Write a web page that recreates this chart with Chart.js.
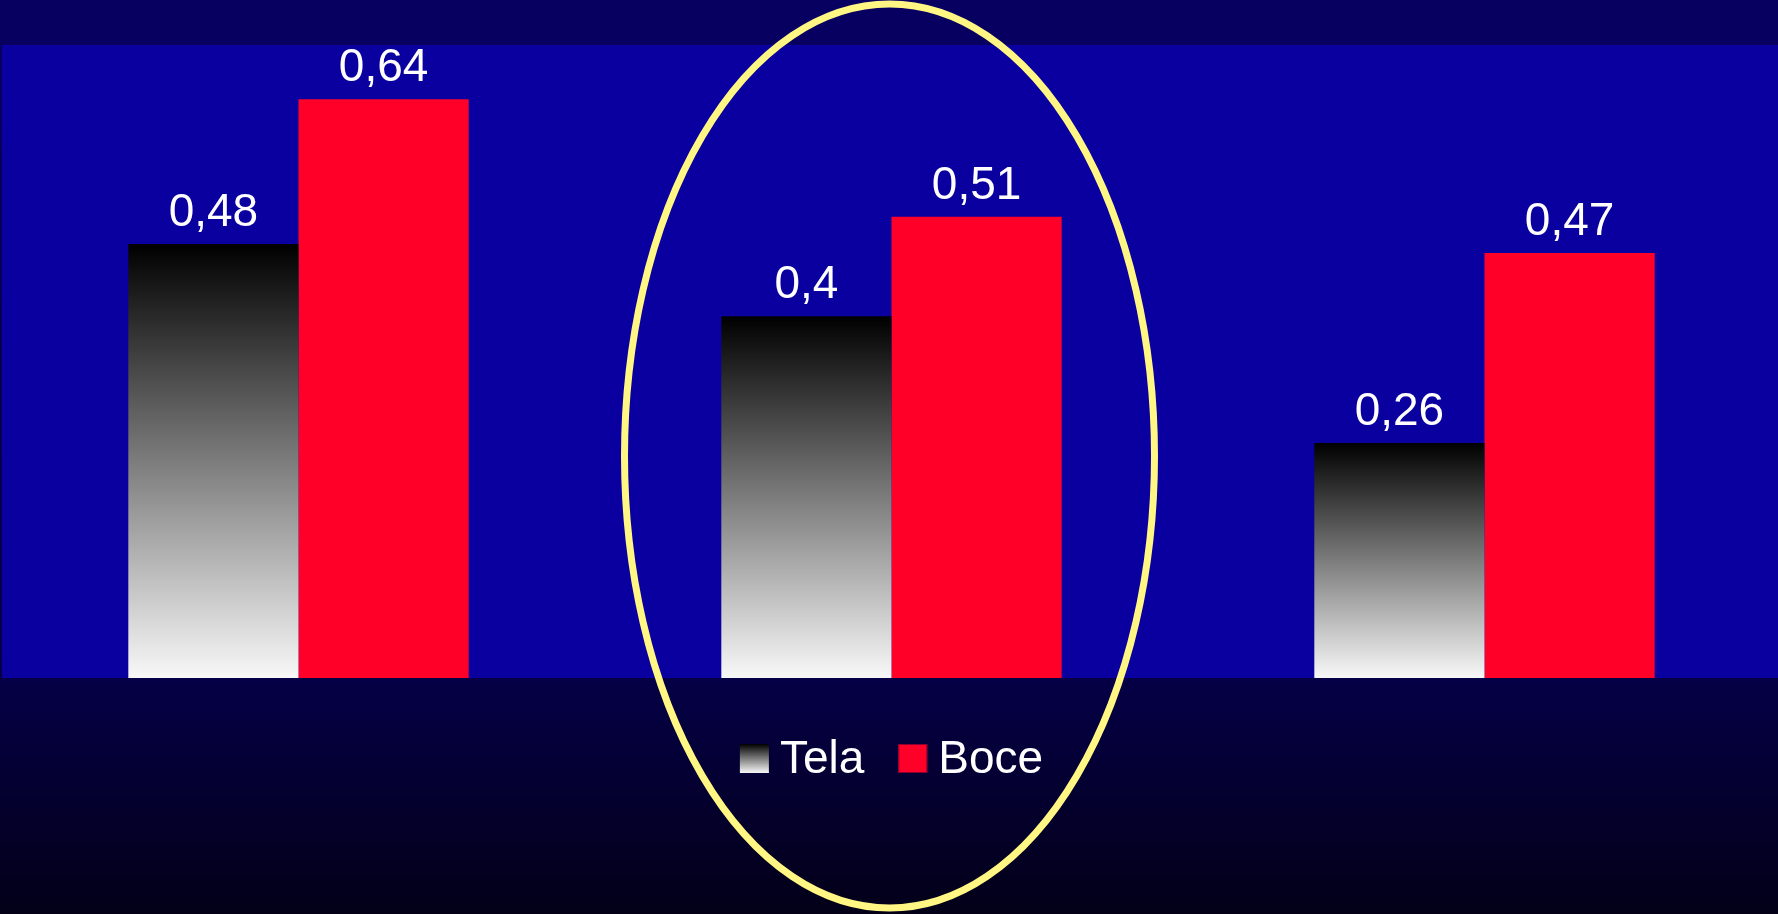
<!DOCTYPE html>
<html>
<head>
  <meta charset="UTF-8">
  <title>Tela / Boce</title>
  <script src="https://cdn.jsdelivr.net/npm/chart.js@4.4.1/dist/chart.umd.min.js"></script>
  <style>
    html, body { margin: 0; padding: 0; background: #03001a; overflow: hidden; }
    #wrap { width: 1778px; height: 914px; overflow: hidden; }
  </style>
</head>
<body>
<div id="wrap"><canvas id="canvas" width="1781" height="914"></canvas></div>
<script>
// valori
const categorie = ["A", "B", "C"];
const tela = [0.48, 0.4, 0.26];
const boce = [0.64, 0.51, 0.47];
const serie = ["Tela", "Boce"];

const ROSSO = "#ff0028";
const FONT = "46px 'Liberation Sans', Arial, sans-serif";

// gradiente nero -> bianco per ogni barra Tela
function gradTela(ctx) {
  const chart = ctx.chart;
  const y = chart.scales.y;
  if (!y || typeof ctx.raw !== "number") return "#808080";
  const top = y.getPixelForValue(ctx.raw);
  const bot = y.getPixelForValue(0);
  if (!Number.isFinite(top) || !Number.isFinite(bot)) return "#808080";
  const g = chart.ctx.createLinearGradient(0, top, 0, bot);
  g.addColorStop(0, "#000000");
  g.addColorStop(1, "#f8f8f8");
  return g;
}

// sfondo pagina + area blu
const sfondo = {
  id: "sfondo",
  beforeDraw(chart) {
    const c = chart.ctx, a = chart.chartArea;
    c.save();
    const g = c.createLinearGradient(0, 0, 0, chart.height);
    g.addColorStop(0, "#070060");
    g.addColorStop(0.05, "#070060");
    g.addColorStop(0.74, "#050046");
    g.addColorStop(1, "#030018");
    c.fillStyle = g;
    c.fillRect(0, 0, chart.width, chart.height);
    c.fillStyle = "#0a00a0";
    c.fillRect(a.left, a.top, chart.width - a.left, a.bottom - a.top);
    c.restore();
  }
};

// etichette valori sopra le barre
const etichette = {
  id: "etichette",
  afterDatasetsDraw(chart) {
    const c = chart.ctx;
    c.save();
    c.font = FONT;
    c.fillStyle = "#ffffff";
    c.textAlign = "center";
    c.textBaseline = "alphabetic";
    chart.data.datasets.forEach((ds, i) => {
      chart.getDatasetMeta(i).data.forEach((bar, j) => {
        const txt = String(ds.data[j]).replace(".", ",");
        c.fillText(txt, bar.x, bar.y - 18);
      });
    });
    c.restore();
  }
};

// legenda sotto il grafico
const legenda = {
  id: "legenda",
  afterDraw(chart) {
    const c = chart.ctx;
    const box = 29, gap = 11, sep = 34, base = 773;
    c.save();
    c.font = FONT;
    const items = chart.data.datasets.map(ds => ({ ds, w: c.measureText(ds.label).width }));
    const tot = items.reduce((s, it) => s + box + gap + it.w, 0) + sep * (items.length - 1);
    let x = chart.scales.x.getPixelForValue(1) - tot / 2;
    items.forEach((it, i) => {
      const y0 = base - box;
      if (i === 0) {
        const g = c.createLinearGradient(0, y0, 0, y0 + box);
        g.addColorStop(0, "#000000");
        g.addColorStop(1, "#f8f8f8");
        c.fillStyle = g;
        c.fillRect(x, y0, box, box);
      } else {
        c.fillStyle = it.ds.backgroundColor;
        c.fillRect(x, y0, box, box);
        c.strokeStyle = "#8a0030";
        c.lineWidth = 1;
        c.strokeRect(x + 0.5, y0 + 0.5, box - 1, box - 1);
      }
      c.fillStyle = "#ffffff";
      c.textBaseline = "alphabetic";
      c.fillText(it.ds.label, x + box + gap, base);
      x += box + gap + it.w + sep;
    });
    c.restore();
  }
};

// ellisse gialla intorno al gruppo centrale
const ellisse = {
  id: "ellisse",
  afterDraw(chart) {
    const c = chart.ctx;
    const cx = chart.scales.x.getPixelForValue(1) - 2;
    c.save();
    c.strokeStyle = "#fff683";
    c.lineWidth = 7;
    c.beginPath();
    c.ellipse(cx, 456, 265, 452, 0, 0, Math.PI * 2);
    c.stroke();
    c.restore();
  }
};

new Chart(document.getElementById("canvas"), {
  type: "bar",
  data: {
    labels: categorie,
    datasets: [
      { label: serie[0], data: tela, backgroundColor: gradTela, borderWidth: 0 },
      { label: serie[1], data: boce, backgroundColor: ROSSO, borderWidth: 0 }
    ]
  },
  options: {
    responsive: false,
    animation: false,
    devicePixelRatio: 1,
    layout: { padding: { left: 2, right: 0, top: 45, bottom: 236 } },
    datasets: { bar: { categoryPercentage: 0.574, barPercentage: 1 } },
    scales: {
      x: { display: false },
      y: { display: false, min: 0, max: 0.7 }
    },
    plugins: {
      legend: { display: false },
      tooltip: { enabled: false }
    }
  },
  plugins: [sfondo, etichette, legenda, ellisse]
});
</script>
</body>
</html>
